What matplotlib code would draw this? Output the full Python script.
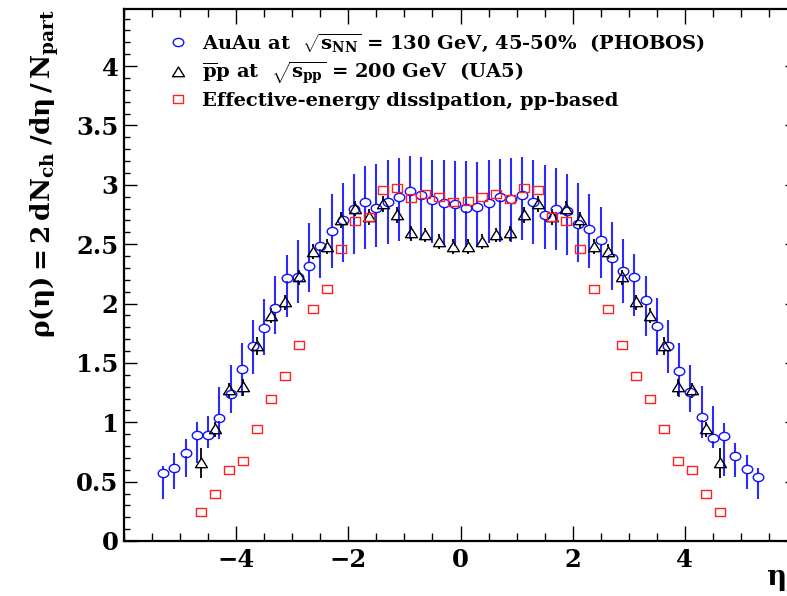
import numpy as np
import matplotlib
matplotlib.use("Agg")
import matplotlib.pyplot as plt
from matplotlib.path import Path
from matplotlib.ticker import MultipleLocator

# PHOBOS Au+Au at sqrt(s_NN) = 130 GeV, 45-50% centrality
eta_phobos = [-5.3, -5.1, -4.9, -4.7, -4.5, -4.3, -4.1, -3.9, -3.7, -3.5, -3.3, -3.1,
              -2.9, -2.7, -2.5, -2.3, -2.1, -1.9, -1.7, -1.5, -1.3, -1.1, -0.9, -0.7,
              -0.5, -0.3, -0.1, 0.1, 0.3, 0.5, 0.7, 0.9, 1.1, 1.3, 1.5, 1.7, 1.9, 2.1,
              2.3, 2.5, 2.7, 2.9, 3.1, 3.3, 3.5, 3.7, 3.9, 4.1, 4.3, 4.5, 4.7, 4.9,
              5.1, 5.3]
rho_phobos = [0.570, 0.617, 0.745, 0.893, 0.893, 1.040, 1.235, 1.446, 1.645, 1.796,
              1.959, 2.218, 2.226, 2.316, 2.487, 2.608, 2.703, 2.796, 2.855, 2.804,
              2.855, 2.894, 2.950, 2.914, 2.872, 2.845, 2.838, 2.807, 2.815, 2.843,
              2.900, 2.877, 2.914, 2.857, 2.743, 2.800, 2.779, 2.667, 2.627, 2.535,
              2.383, 2.274, 2.223, 2.030, 1.810, 1.642, 1.429, 1.255, 1.047, 0.870,
              0.884, 0.718, 0.604, 0.541]
err_lo_phobos = [0.22, 0.18, 0.21, 0.24, 0.11, 0.18, 0.155, 0.225, 0.235, 0.23,
                 0.22, 0.33, 0.225, 0.22, 0.275, 0.31, 0.35, 0.38, 0.40, 0.33,
                 0.35, 0.37, 0.41, 0.38, 0.36, 0.35, 0.35, 0.33, 0.33, 0.336,
                 0.38, 0.356, 0.38, 0.36, 0.28, 0.35, 0.37, 0.315, 0.33, 0.32,
                 0.27, 0.27, 0.33, 0.30, 0.24, 0.23, 0.22, 0.17, 0.18, 0.09,
                 0.34, 0.18, 0.17, 0.19]
err_hi_phobos = [0.06, 0.12, 0.11, 0.11, 0.16, 0.26, 0.245, 0.22, 0.215, 0.24,
                 0.27, 0.19, 0.31, 0.36, 0.315, 0.31, 0.31, 0.295, 0.30, 0.37,
                 0.35, 0.33, 0.29, 0.32, 0.34, 0.36, 0.36, 0.39, 0.38, 0.365,
                 0.32, 0.345, 0.317, 0.35, 0.42, 0.34, 0.31, 0.345, 0.295, 0.28,
                 0.30, 0.27, 0.19, 0.20, 0.234, 0.22, 0.236, 0.23, 0.26, 0.27,
                 0.11, 0.105, 0.12, 0.07]

# UA5 pbar-p at sqrt(s) = 200 GeV
eta_ua5 = [-4.625, -4.375, -4.125, -3.875, -3.625, -3.375, -3.125, -2.875, -2.625,
           -2.375, -2.125, -1.875, -1.625, -1.375, -1.125, -0.875, -0.625, -0.375,
           -0.125, 0.125, 0.375, 0.625, 0.875, 1.125, 1.375, 1.625, 1.875, 2.125,
           2.375, 2.625, 2.875, 3.125, 3.375, 3.625, 3.875, 4.125, 4.375, 4.625]
rho_ua5 = [0.654, 0.940, 1.270, 1.294, 1.643, 1.897, 2.010, 2.219, 2.437,
           2.478, 2.703, 2.800, 2.728, 2.837, 2.745, 2.591, 2.577, 2.520,
           2.478, 2.478, 2.520, 2.577, 2.591, 2.745, 2.837, 2.728, 2.800, 2.703,
           2.478, 2.437, 2.219, 2.010, 1.897, 1.643, 1.294, 1.270, 0.940, 0.654]
err_ua5 = [0.126, 0.063, 0.063, 0.070, 0.075, 0.065, 0.065, 0.065, 0.065,
           0.065, 0.065, 0.065, 0.065, 0.065, 0.066, 0.063, 0.063, 0.063,
           0.063, 0.063, 0.063, 0.063, 0.063, 0.066, 0.065, 0.065, 0.065, 0.065,
           0.065, 0.065, 0.065, 0.065, 0.065, 0.075, 0.070, 0.063, 0.063, 0.126]

# effective-energy dissipation picture, pp-based
eta_model = eta_ua5
rho_model = [0.247, 0.396, 0.598, 0.676, 0.943, 1.198, 1.386, 1.651, 1.951,
             2.122, 2.463, 2.693, 2.726, 2.956, 2.970, 2.886, 2.920, 2.900,
             2.857, 2.863, 2.900, 2.922, 2.880, 2.970, 2.956, 2.726, 2.695, 2.462,
             2.122, 1.951, 1.651, 1.389, 1.198, 0.943, 0.676, 0.598, 0.396, 0.247]

x_major = [-4, -2, 0, 2, 4]
y_major = [0, 0.5, 1, 1.5, 2, 2.5, 3, 3.5, 4]
y_major_labels = ["0", "0.5", "1", "1.5", "2", "2.5", "3", "3.5", "4"]

SERIF = "DejaVu Serif"
plt.rcParams["font.family"] = [SERIF]
plt.rcParams["font.weight"] = "bold"
plt.rcParams["mathtext.fontset"] = "custom"
plt.rcParams["mathtext.rm"] = SERIF + ":bold"
plt.rcParams["mathtext.it"] = SERIF + ":bold"
plt.rcParams["mathtext.bf"] = SERIF + ":bold"

W, H = 787, 596
fig = plt.figure(figsize=(W / 100, H / 100), dpi=100)
fig.patch.set_facecolor("white")
# frame: left 124 px, top 9 px, bottom 541 px; right edge runs just past the canvas
ax_l, ax_r, ax_t, ax_b = 124, 797, 9, 541
ax = fig.add_axes([ax_l / W, 1 - ax_b / H, (ax_r - ax_l) / W, (ax_b - ax_t) / H])
ax.set_xlim(-6, 6)
ax.set_ylim(0, 4.48)

# open markers, slightly wider than tall
circ = Path.unit_circle()
ellipse = Path(circ.vertices * np.array([1.0, 0.78]), circ.codes)
rect = Path([[-1, -0.82], [1, -0.82], [1, 0.82], [-1, 0.82], [-1, -0.82]],
            [Path.MOVETO, Path.LINETO, Path.LINETO, Path.LINETO, Path.CLOSEPOLY])
tri = Path([[-0.6, -0.42], [0.6, -0.42], [0.0, 0.55], [-0.6, -0.42]],
           [Path.MOVETO, Path.LINETO, Path.LINETO, Path.CLOSEPOLY])

blue = "#1010ff"
bar_blue = "#2b2bff"
red = "#ff2020"

# vertical data units per pixel, used to leave a gap where the bar meets the marker
dy_px = 4.48 / (ax_b - ax_t)


def bars(x, y, lo, hi, gap_px, color, lw):
    x = np.asarray(x); y = np.asarray(y); lo = np.asarray(lo); hi = np.asarray(hi)
    gap = gap_px * dy_px
    m = lo > gap
    ax.vlines(x[m], (y - lo)[m], (y - gap)[m], colors=color, lw=lw, zorder=2)
    m = hi > gap
    ax.vlines(x[m], (y + gap)[m], (y + hi)[m], colors=color, lw=lw, zorder=2)


bars(eta_phobos, rho_phobos, err_lo_phobos, err_hi_phobos, 3.8, bar_blue, 1.5)
bars(eta_ua5, rho_ua5, err_ua5, err_ua5, 4.5, "black", 1.3)

h1, = ax.plot(eta_phobos, rho_phobos, ls="none", marker=ellipse, ms=7.6,
              mfc="none", mec=blue, mew=1.0, zorder=3,
              label=r"AuAu at  $\sqrt{s_{NN}}$ = 130 GeV, 45-50%  (PHOBOS)")
h2, = ax.plot(eta_ua5, rho_ua5, ls="none", marker=tri, ms=8.6,
              mfc="none", mec="black", mew=1.0, zorder=3,
              label=r"$\overline{\mathrm{p}}$p at  $\sqrt{s_{pp}}$ = 200 GeV  (UA5)")
h3, = ax.plot(eta_model, rho_model, ls="none", marker=rect, ms=7.4,
              mfc="none", mec=red, mew=1.0, zorder=3,
              label="Effective-energy dissipation, pp-based")

ax.xaxis.set_major_locator(plt.FixedLocator(x_major))
ax.xaxis.set_minor_locator(MultipleLocator(0.5))
ax.set_yticks(y_major)
ax.set_yticklabels(y_major_labels)
ax.yaxis.set_minor_locator(MultipleLocator(0.1))
ax.tick_params(which="both", direction="in", top=True, right=True, width=1.0,
               colors="black", labelsize=17.5)
ax.tick_params(axis="x", which="major", length=11, pad=5)
ax.tick_params(axis="x", which="minor", length=6)
ax.tick_params(axis="y", which="major", length=9, pad=4)
ax.tick_params(axis="y", which="minor", length=4.5)
for lab in ax.get_xticklabels() + ax.get_yticklabels():
    lab.set_fontweight("bold")
for sp in ax.spines.values():
    sp.set_linewidth(1.6)

ax.set_ylabel(r"$\rho(\eta) = 2\,dN_{ch}\;/d\eta\,/\,N_{part}$", fontsize=19,
              loc="top")
ax.yaxis.set_label_coords((45 - ax_l) / (ax_r - ax_l), 1.0)
ax.yaxis.label.set_va("center")

fig.text(785 / W, 1 - 593 / H, r"$\eta$", fontsize=20, ha="right", va="bottom")

leg = ax.legend(handles=[h1, h2, h3], loc="upper left", frameon=False,
                bbox_to_anchor=(168 / W, 1 - 32 / H), bbox_transform=fig.transFigure,
                borderaxespad=0, borderpad=0, handlelength=1.0, handletextpad=0.75,
                labelspacing=0.3, prop={"family": SERIF, "weight": "bold", "size": 14})

fig.savefig("out.png", dpi=100, facecolor="white")
